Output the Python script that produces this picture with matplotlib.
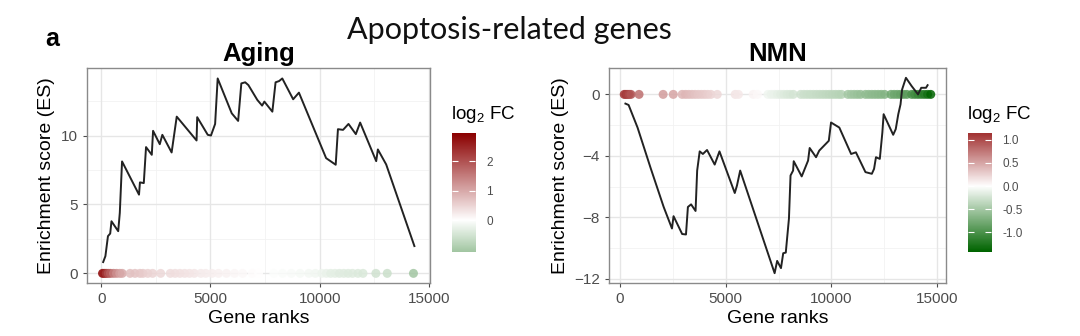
import numpy as np
import matplotlib
matplotlib.use('Agg')
import matplotlib.pyplot as plt
from matplotlib.colors import LinearSegmentedColormap, Normalize

plt.rcParams['font.family'] = ['Liberation Sans', 'DejaVu Sans']
plt.rcParams['mathtext.default'] = 'regular'

# running enrichment score, Aging
aging_rank = [88, 190, 307, 410, 468, 776, 849, 952, 1728, 1771, 1947, 2050, 2313, 2372,
              2679, 2796, 3221, 3455, 4363, 4392, 4875, 5022, 5212, 5329, 5973, 6266,
              6412, 6588, 6734, 7144, 7364, 7466, 7832, 7979, 8140, 8286, 8784, 9048,
              10292, 10731, 10834, 11068, 11317, 11653, 11850, 12585, 12661, 13042, 14333]
aging_es = [0.82, 1.25, 2.7, 2.89, 3.78, 3.06, 4.39, 8.12, 5.71, 6.6, 6.55, 9.16, 8.6, 10.34,
            9.37, 10.05, 8.77, 11.37, 9.64, 11.33, 10.05, 10.0, 10.84, 14.14, 11.61, 11.06,
            13.78, 13.86, 13.66, 12.58, 12.17, 12.46, 11.73, 13.86, 13.95, 14.14, 12.63, 13.11,
            8.36, 7.88, 10.46, 10.41, 10.84, 10.1, 10.94, 8.14, 8.99, 7.9, 1.98]

# genes of the set, Aging (rank, log2 FC)
aging_gene_rank = [60, 150, 230, 320, 420, 560, 700, 850, 960, 1320, 1545, 1770, 1910, 2130,
                   2350, 2720, 3160, 3380, 3600, 3820, 4040, 4260, 4560, 4780, 5070, 5365,
                   5730, 6100, 6470, 6910, 7200, 7900, 8300, 8700, 9100, 9500, 9800, 10100,
                   10300, 10500, 10700, 10900, 11100, 11300, 11500, 11750, 11980, 12570,
                   13090, 14290]
aging_fc = [2.95, 2.6, 2.3, 2.0, 1.8, 1.5, 1.3, 1.1, 1.0, 0.75, 0.7, 0.65, 0.6, 0.55,
            0.5, 0.45, 0.4, 0.38, 0.35, 0.33, 0.3, 0.28, 0.25, 0.22, 0.2, 0.18,
            0.14, 0.1, 0.07, 0.04, 0.02, -0.03, -0.05, -0.07, -0.1, -0.12, -0.15, -0.2,
            -0.25, -0.3, -0.32, -0.35, -0.35, -0.38, -0.38, -0.4, -0.42, -0.55,
            -0.6, -1.08]

# running enrichment score, NMN
nmn_rank = [256, 407, 830, 1450, 2066, 2458, 2533, 2940, 3121, 3212, 3363, 3574, 3650, 3770,
            3920, 4117, 4479, 4705, 5429, 5534, 5685, 7314, 7434, 7615, 7721, 7842, 7992,
            8067, 8188, 8218, 8595, 8897, 8972, 9274, 9425, 9877, 9983, 10375, 10933, 11159,
            11611, 11913, 12018, 12109, 12290, 12411, 12471, 12923, 13044, 13164, 13270,
            13345, 13526, 13797, 14099, 14250, 14476, 14551]
nmn_es = [-0.6, -0.69, -2.16, -4.8, -7.33, -8.73, -7.93, -9.09, -9.12, -7.33, -7.16, -7.59,
          -4.96, -3.71, -3.88, -3.62, -4.57, -3.71, -6.42, -5.93, -4.96, -11.64, -10.84,
          -11.31, -10.34, -10.3, -8.08, -5.28, -4.96, -4.35, -5.34, -4.31, -3.49, -4.09,
          -3.66, -3.02, -1.83, -2.16, -3.88, -3.77, -5.06, -5.17, -4.85, -4.09, -4.2, -2.48,
          -1.29, -2.63, -2.26, -1.29, -0.65, 0.32, 1.08, 0.54, 0.0, 0.43, 0.43, 0.6]

# genes of the set, NMN (rank, log2 FC)
nmn_gene_rank = [200, 280, 360, 440, 520, 900, 2040, 2520, 2940, 3100, 3250, 3400, 3550,
                 3700, 3850, 4000, 4150, 4300, 4600, 5450, 5600, 6300, 6500, 7000, 7150,
                 7300, 7450, 7600, 7750, 7900, 8050, 8200, 8550, 8700, 8850, 9000, 9150,
                 9300, 9450, 9600, 9750, 9900, 10050, 10200, 10350, 10480, 10780, 10930,
                 11080, 11230, 11380, 11610, 11760, 11910, 12060, 12210, 12360, 12520,
                 12820, 12970, 13120, 13270, 13420, 13570, 13800, 13950, 14100, 14250,
                 14400, 14550, 14700]
nmn_fc = [1.14, 1.1, 1.05, 1.0, 0.95, 0.8, 0.55, 0.5, 0.42, 0.4, 0.38, 0.36, 0.34,
          0.32, 0.3, 0.29, 0.27, 0.25, 0.22, 0.15, 0.13, 0.06, 0.04, -0.08, -0.1,
          -0.12, -0.14, -0.16, -0.18, -0.2, -0.22, -0.24, -0.27, -0.28, -0.29, -0.3, -0.31,
          -0.32, -0.33, -0.34, -0.35, -0.36, -0.37, -0.38, -0.39, -0.4, -0.5, -0.52,
          -0.54, -0.56, -0.58, -0.6, -0.62, -0.63, -0.64, -0.65, -0.66, -0.68,
          -0.78, -0.8, -0.82, -0.85, -0.88, -0.9, -1.0, -1.05, -1.1, -1.15,
          -1.22, -1.3, -1.42]

cmap = LinearSegmentedColormap.from_list('gr', ['#006400', '#ffffff', '#8b0000'])


def es_panel(ax, cax, rank, es, gene_rank, fc, title, yticks, xlim, ylim, minor_y):
    m = max(abs(min(fc)), abs(max(fc)))
    norm = Normalize(-m, m)
    ax.set_axisbelow(True)
    for v in [2500, 7500, 12500]:
        ax.axvline(v, color='#f2f2f2', lw=0.6, zorder=0)
    for v in minor_y:
        ax.axhline(v, color='#f2f2f2', lw=0.6, zorder=0)
    ax.grid(True, color='#e6e6e6', lw=1.0)
    ax.scatter(gene_rank, np.zeros(len(gene_rank)), c=fc, cmap=cmap, norm=norm,
               s=42, edgecolors='none', alpha=0.85, zorder=2)
    ax.plot(rank, es, color='#222222', lw=1.4, zorder=3)
    ax.set_xlim(xlim)
    ax.set_ylim(ylim)
    ax.set_xticks([0, 5000, 10000, 15000])
    ax.set_yticks(yticks)
    ax.tick_params(labelsize=11, colors='#4d4d4d', length=3, width=0.8)
    for s in ax.spines.values():
        s.set_color('#8a8a8a')
        s.set_linewidth(1.0)
    ax.set_xlabel('Gene ranks', fontsize=14, labelpad=3)
    ax.set_ylabel('Enrichment score (ES)', fontsize=14, labelpad=4)
    ax.set_title(title, fontsize=18.5, fontweight='bold', pad=5)

    # colour bar
    vmin, vmax = min(fc), max(fc)
    grad = np.linspace(vmin, vmax, 256).reshape(-1, 1)
    cax.imshow(grad, cmap=cmap, norm=norm, aspect='auto', origin='lower',
               extent=[0, 1, vmin, vmax])
    cax.set_xticks([])
    for s in cax.spines.values():
        s.set_visible(False)
    cax.tick_params(axis='y', direction='in', color='white', length=4, width=0.8,
                    left=True, right=True, labelleft=False, labelright=True,
                    labelsize=8.5, labelcolor='#4d4d4d', pad=8)
    cax.set_title(r'log$_2$ FC', fontsize=13.5, loc='left', pad=10, x=-0.05)
    return cax


fig = plt.figure(figsize=(10.8, 3.36), dpi=100)
ax1 = fig.add_axes([0.0806, 0.1577, 0.3176, 0.64])
cax1 = fig.add_axes([0.4185, 0.25, 0.0213, 0.354])
ax2 = fig.add_axes([0.5639, 0.1577, 0.312, 0.64])
cax2 = fig.add_axes([0.8963, 0.25, 0.0213, 0.354])

es_panel(ax1, cax1, aging_rank, aging_es, aging_gene_rank, aging_fc, 'Aging',
         [0, 5, 10], (-650, 15050), (-0.7, 14.9), [2.5, 7.5, 12.5])
cax1.set_yticks([0, 1, 2])
cax1.set_yticklabels(['0', '1', '2'])

es_panel(ax2, cax2, nmn_rank, nmn_es, nmn_gene_rank, nmn_fc, 'NMN',
         [0, -4, -8, -12], (-520, 15420), (-12.28, 1.72), [-2, -6, -10])
cax2.set_yticks([-1, -0.5, 0, 0.5, 1])
cax2.set_yticklabels(['-1.0', '-0.5', '0.0', '0.5', '1.0'])

fig.text(0.472, 0.91, 'Apoptosis-related genes', fontsize=22, family=['Lato', 'DejaVu Sans'],
         ha='center', va='center', color='#111111')
fig.text(0.048, 0.885, 'a', fontsize=18, fontweight='bold', ha='center', va='center')

fig.savefig('out.png', dpi=100)
